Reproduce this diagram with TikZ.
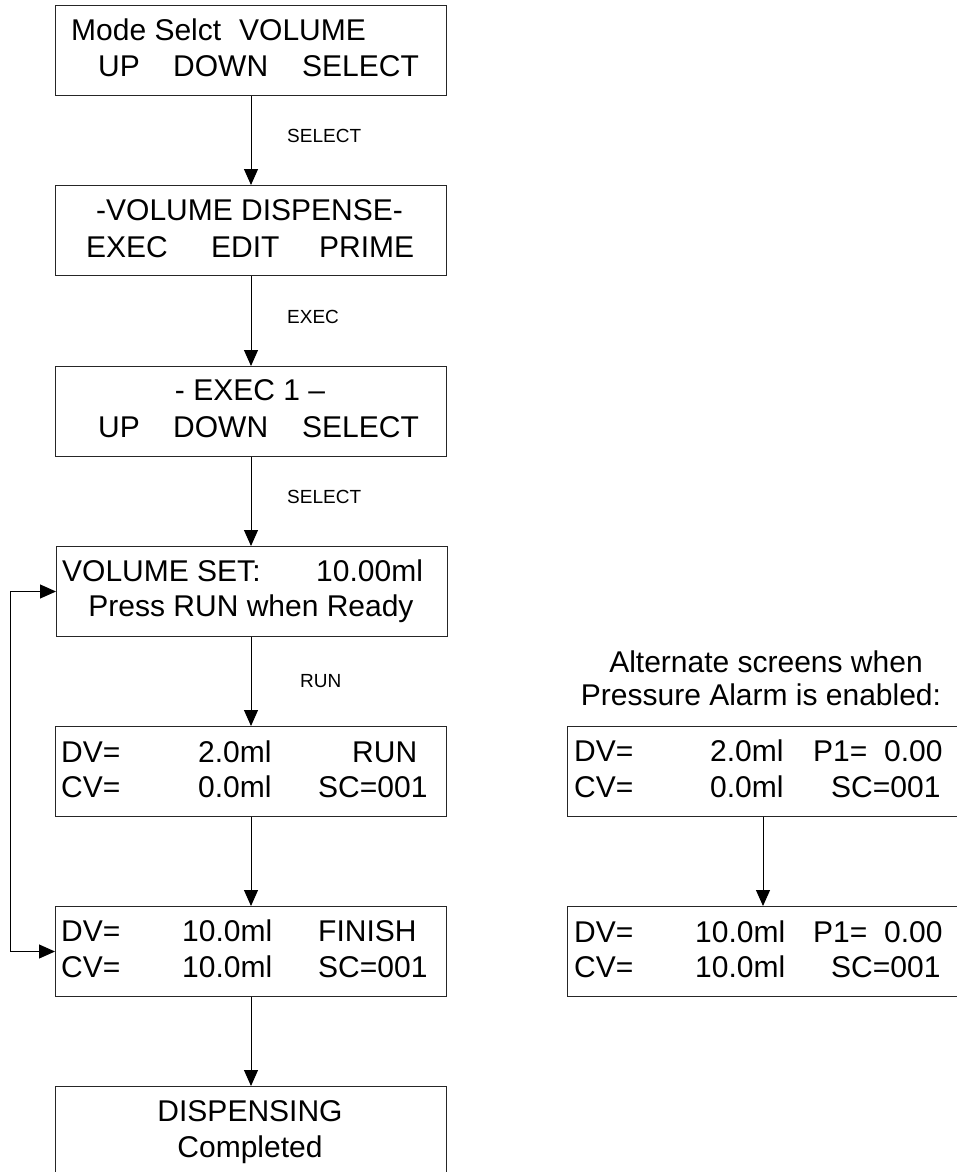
\documentclass[tikz,border=0pt]{standalone}
\usepackage{fontspec}
\setmainfont{Liberation Sans}
\usetikzlibrary{arrows.meta}
\begin{document}
\begin{tikzpicture}[x=1pt,y=-1pt,
  box/.style={draw=black!85,line width=1pt,minimum width=391pt,minimum height=90pt,anchor=north west,inner sep=0pt},
  txt/.style={anchor=base west,inner sep=0pt,font=\fontsize{30}{35}\selectfont},
  ctxt/.style={anchor=base,inner sep=0pt,font=\fontsize{30}{35}\selectfont},
  lbl/.style={anchor=base west,inner sep=0pt,font=\fontsize{19}{23}\selectfont},
  arr/.style={draw=black,line width=1pt,-{Triangle[length=16pt,width=14pt]}},
  arr2/.style={draw=black,line width=1pt,{Triangle[length=16pt,width=14pt]}-{Triangle[length=16pt,width=14pt]}}]
\useasboundingbox (0,0) rectangle (957,1172);
\begin{scope}
\clip (0,0) rectangle (957,1172);
% boxes
\node[box] (b1) at (55,5) {};
\node[box] (b2) at (55,185) {};
\node[box] (b3) at (55,366) {};
\node[box] (b4) at (56,546) {};
\node[box] (b5) at (55,726) {};
\node[box] (b6) at (55,906) {};
\node[box] (b7) at (55,1086) {};
\node[box] (r1) at (567,726) {};
\node[box] (r2) at (567,906) {};
\end{scope}
% box 1
\node[txt] (t1a) at (71,41) {Mode Selct};
\node[txt] (t1b) at (239,41) {VOLUME};
\node[txt] (t1c) at (98,76) {UP};
\node[txt] (t1d) at (173,76) {DOWN};
\node[txt] (t1e) at (302,76) {SELECT};
% box 2
\node[txt] (t2a) at (96,220) {-VOLUME DISPENSE-};
\node[txt] (t2b) at (86,257) {EXEC};
\node[txt] (t2c) at (211,257) {EDIT};
\node[txt] (t2d) at (319,257) {PRIME};
% box 3
\node[ctxt] (t3a) at (250,400) {- EXEC 1 –};
\node[txt] (t3b) at (98,437) {UP};
\node[txt] (t3c) at (173,437) {DOWN};
\node[txt] (t3d) at (302,437) {SELECT};
% box 4
\node[txt] (t4a) at (62,581) {VOLUME SET:};
\node[txt] (t4b) at (316,581) {10.00ml};
\node[ctxt] (t4c) at (251,616) {Press RUN when Ready};
% box 5
\node[txt] (t5a) at (61,762) {DV=};
\node[txt] (t5b) at (198,762) {2.0ml};
\node[txt] (t5c) at (352,762) {RUN};
\node[txt] (t5d) at (61,797) {CV=};
\node[txt] (t5e) at (198,797) {0.0ml};
\node[txt] (t5f) at (318,797) {SC=001};
% box 6
\node[txt] (t6a) at (61,941) {DV=};
\node[txt] (t6b) at (182,941) {10.0ml};
\node[txt] (t6c) at (318,941) {FINISH};
\node[txt] (t6d) at (61,977) {CV=};
\node[txt] (t6e) at (182,977) {10.0ml};
\node[txt] (t6f) at (318,977) {SC=001};
% box 7
\node[ctxt] (t7a) at (250,1121) {DISPENSING};
\node[ctxt] (t7b) at (250,1157) {Completed};
% right title
\node[ctxt] (h1) at (766,672) {Alternate screens when};
\node[ctxt] (h2) at (761,705) {Pressure Alarm is enabled:};
% right box 1
\node[txt] (u1a) at (574,761) {DV=};
\node[txt] (u1b) at (710,761) {2.0ml};
\node[txt] (u1c) at (813,761) {P1=};
\node[txt] (u1d) at (884,761) {0.00};
\node[txt] (u1e) at (574,797) {CV=};
\node[txt] (u1f) at (710,797) {0.0ml};
\node[txt] (u1g) at (831,797) {SC=001};
% right box 2
\node[txt] (u2a) at (574,942) {DV=};
\node[txt] (u2b) at (695,942) {10.0ml};
\node[txt] (u2c) at (813,942) {P1=};
\node[txt] (u2d) at (884,942) {0.00};
\node[txt] (u2e) at (574,977) {CV=};
\node[txt] (u2f) at (695,977) {10.0ml};
\node[txt] (u2g) at (831,977) {SC=001};
% connector labels
\node[lbl] (l1) at (287,142) {SELECT};
\node[lbl] (l2) at (287,323) {EXEC};
\node[lbl] (l3) at (287,503) {SELECT};
\node[lbl] (l4) at (300,687) {RUN};
% connectors
\draw[arr] (b1.south) -- (b2.north);
\draw[arr] (b2.south) -- (b3.north);
\draw[arr] (b3.south) -- (b4.north -| b3.south);
\draw[arr] (b4.south -| b5.north) -- (b5.north);
\draw[arr] (b5.south) -- (b6.north);
\draw[arr] (b6.south) -- (b7.north);
\draw[arr] (r1.south) -- (r2.north);
\draw[arr2] (b6.west) -- ++(-45,0) |- (b4.west);
\end{tikzpicture}
\end{document}
